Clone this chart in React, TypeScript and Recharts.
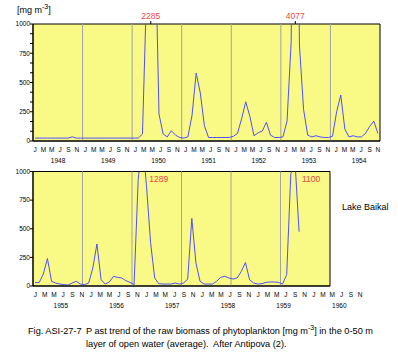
import React from 'react';
import {
  LineChart,
  Line,
  XAxis,
  YAxis,
  CartesianGrid,
  ReferenceLine,
  ReferenceArea,
  ReferenceDot,
} from 'recharts';

// monthly phytoplankton biomass, mg m-3, 0-50 m layer (Jan..Dec)
const y1948 = [25, 25, 25, 25, 25, 25, 25, 25, 25, 35, 25, 25];
const y1949 = [25, 25, 25, 25, 25, 25, 25, 25, 25, 25, 25, 25];
const y1950 = [25, 25, 60, 1300, 2285, 1900, 230, 60, 35, 88, 50, 30];
const y1951 = [25, 35, 220, 580, 410, 130, 30, 30, 30, 30, 30, 30];
const y1952 = [40, 65, 190, 335, 210, 45, 70, 85, 160, 50, 30, 30];
const y1953 = [35, 170, 850, 4077, 820, 270, 50, 35, 45, 35, 30, 30];
const y1954 = [40, 250, 393, 100, 35, 45, 35, 35, 65, 125, 170, 65];

const y1955 = [30, 30, 105, 240, 40, 26, 17, 12, 8, 26, 41, 17];
const y1956 = [12, 26, 157, 367, 55, 17, 35, 84, 76, 70, 47, 32];
const y1957 = [12, 930, 1289, 880, 380, 70, 20, 17, 17, 17, 26, 17];
const y1958 = [26, 60, 590, 200, 41, 17, 17, 17, 41, 76, 84, 70];
const y1959 = [61, 70, 128, 205, 55, 26, 17, 20, 32, 35, 35, 32];
const y1960 = [17, 100, 980, 1100, 474];

const topYears = [1948, 1949, 1950, 1951, 1952, 1953, 1954];
const bottomYears = [1955, 1956, 1957, 1958, 1959, 1960];
const monthLetters = ['J', 'M', 'M', 'J', 'S', 'N'];

const topYTicks = [0, 83.33, 166.67, 250, 333.33, 416.67, 500, 583.33, 666.67, 750, 833.33, 916.67, 1000];
const bottomYTicks = [0, 250, 500, 750, 1000];

const FONT = '"Liberation Sans", Arial, sans-serif';
const BLUE = '#4f4fff';
const YELLOW = '#f9f985';
const GRAY = '#a3a3a3';
const RED = '#f04848';

interface PanelProps {
  years: number[];
  values: number[][];
  yTicks: number[];
  height: number;
  top: number;
  right: number;
  peakInside?: boolean;
}

function Panel({ years, values, yTicks, height, top, right, peakInside }: PanelProps) {
  const n = years.length * 12;
  const rows = values.flat().map((v, i) => ({ m: i + 0.5, v }));
  // off-scale peaks get their value written next to them
  const peaks = rows.filter(
    (r, i) => r.v > 1000 && r.v >= (rows[i - 1]?.v ?? 0) && r.v >= (rows[i + 1]?.v ?? 0),
  );
  const monthTicks = Array.from({ length: n + 1 }, (_, i) => i);
  const letterTicks = Array.from({ length: n / 2 }, (_, i) => i * 2 + 0.5);
  const yearTicks = years.map((_, i) => i * 12 + 6);
  const yearLines = years.slice(1).map((_, i) => (i + 1) * 12);
  const tickFont = { fill: '#000', fontSize: 6.5, fontFamily: FONT };

  return (
    <LineChart width={398} height={height} data={rows} margin={{ top, right, bottom: 0, left: 0 }}>
      <CartesianGrid fill={YELLOW} fillOpacity={1} horizontal={false} vertical={false} />
      <XAxis
        dataKey="m"
        type="number"
        domain={[0, n]}
        ticks={monthTicks}
        interval={0}
        tick={false}
        tickSize={3}
        height={4}
        stroke="#000"
      />
      <XAxis
        xAxisId="lab"
        type="number"
        domain={[0, n]}
        ticks={letterTicks}
        interval={0}
        tickFormatter={(v: number) => monthLetters[Math.floor((v % 12) / 2)]}
        axisLine={false}
        tickLine={false}
        tickSize={0}
        tickMargin={2}
        tick={tickFont}
        height={10}
      />
      <XAxis
        xAxisId="yr"
        type="number"
        domain={[0, n]}
        ticks={yearTicks}
        interval={0}
        tickFormatter={(v: number) => String(years[Math.floor(v / 12)])}
        axisLine={false}
        tickLine={false}
        tickSize={0}
        tickMargin={3}
        tick={tickFont}
        height={12}
      />
      <YAxis
        type="number"
        domain={[0, 1000]}
        allowDataOverflow
        ticks={yTicks}
        interval={0}
        width={33}
        tickSize={3}
        tickMargin={0}
        stroke="#000"
        tick={tickFont}
        tickFormatter={(v: number) => (v % 250 === 0 ? String(v) : '')}
      />
      {yearLines.map((x) => (
        <ReferenceLine key={x} x={x} stroke={GRAY} strokeWidth={1} />
      ))}
      <Line
        type="linear"
        dataKey="v"
        stroke={BLUE}
        strokeWidth={1}
        dot={false}
        isAnimationActive={false}
      />
      <ReferenceArea x1={0} x2={n} y1={0} y2={1000} fill="none" stroke="#000" strokeWidth={1} />
      {peaks.map((p) => (
        <ReferenceDot
          key={p.m}
          x={p.m}
          y={1000}
          r={0}
          shape={(s: any) =>
            peakInside ? (
              <text x={s.cx + 7} y={s.cy + 10} fill={RED} fontSize={8.5} fontFamily={FONT}>
                {p.v}
              </text>
            ) : (
              <g>
                <line x1={s.cx} x2={s.cx} y1={s.cy - 3} y2={s.cy} stroke="#000" />
                <text x={s.cx} y={s.cy - 5.5} textAnchor="middle" fill={RED} fontSize={8.5} fontFamily={FONT}>
                  {p.v}
                </text>
              </g>
            )
          }
        />
      ))}
    </LineChart>
  );
}

export default function App() {
  return (
    <div style={{ position: 'absolute', left: 0, top: 0, width: 398, height: 352, background: '#fff', fontFamily: FONT }}>
      <div style={{ position: 'absolute', left: 0, top: 0 }}>
        <Panel
          years={topYears}
          values={[y1948, y1949, y1950, y1951, y1952, y1953, y1954]}
          yTicks={topYTicks}
          height={167}
          top={24}
          right={18}
        />
      </div>
      <div style={{ position: 'absolute', left: 0, top: 168 }}>
        <Panel
          years={bottomYears}
          values={[y1955, y1956, y1957, y1958, y1959, y1960]}
          yTicks={bottomYTicks}
          height={144}
          top={3.5}
          right={68}
          peakInside
        />
      </div>
      <svg
        width={398}
        height={352}
        style={{ position: 'absolute', left: 0, top: 0, pointerEvents: 'none' }}
        fontFamily={FONT}
        fontSize={9}
      >
        <text x={17} y={12.5}>
          [mg m<tspan fontSize={7} dy={-4}>-3</tspan>
          <tspan dy={4}>]</tspan>
        </text>
        <text x={342} y={210}>Lake Baikal</text>
        <g fontSize={9.2}>
          <text x={28} y={334}>Fig. ASI-27-7</text>
          <text x={86} y={334}>
            P ast trend of the raw biomass of phytoplankton [mg m<tspan fontSize={7} dy={-4}>-3</tspan>
            <tspan dy={4}>] in the 0-50 m</tspan>
          </text>
          <text x={86} y={346.5}>layer of open water (average).</text>
          <text x={213} y={346.5}>After Antipova (2).</text>
        </g>
      </svg>
    </div>
  );
}
